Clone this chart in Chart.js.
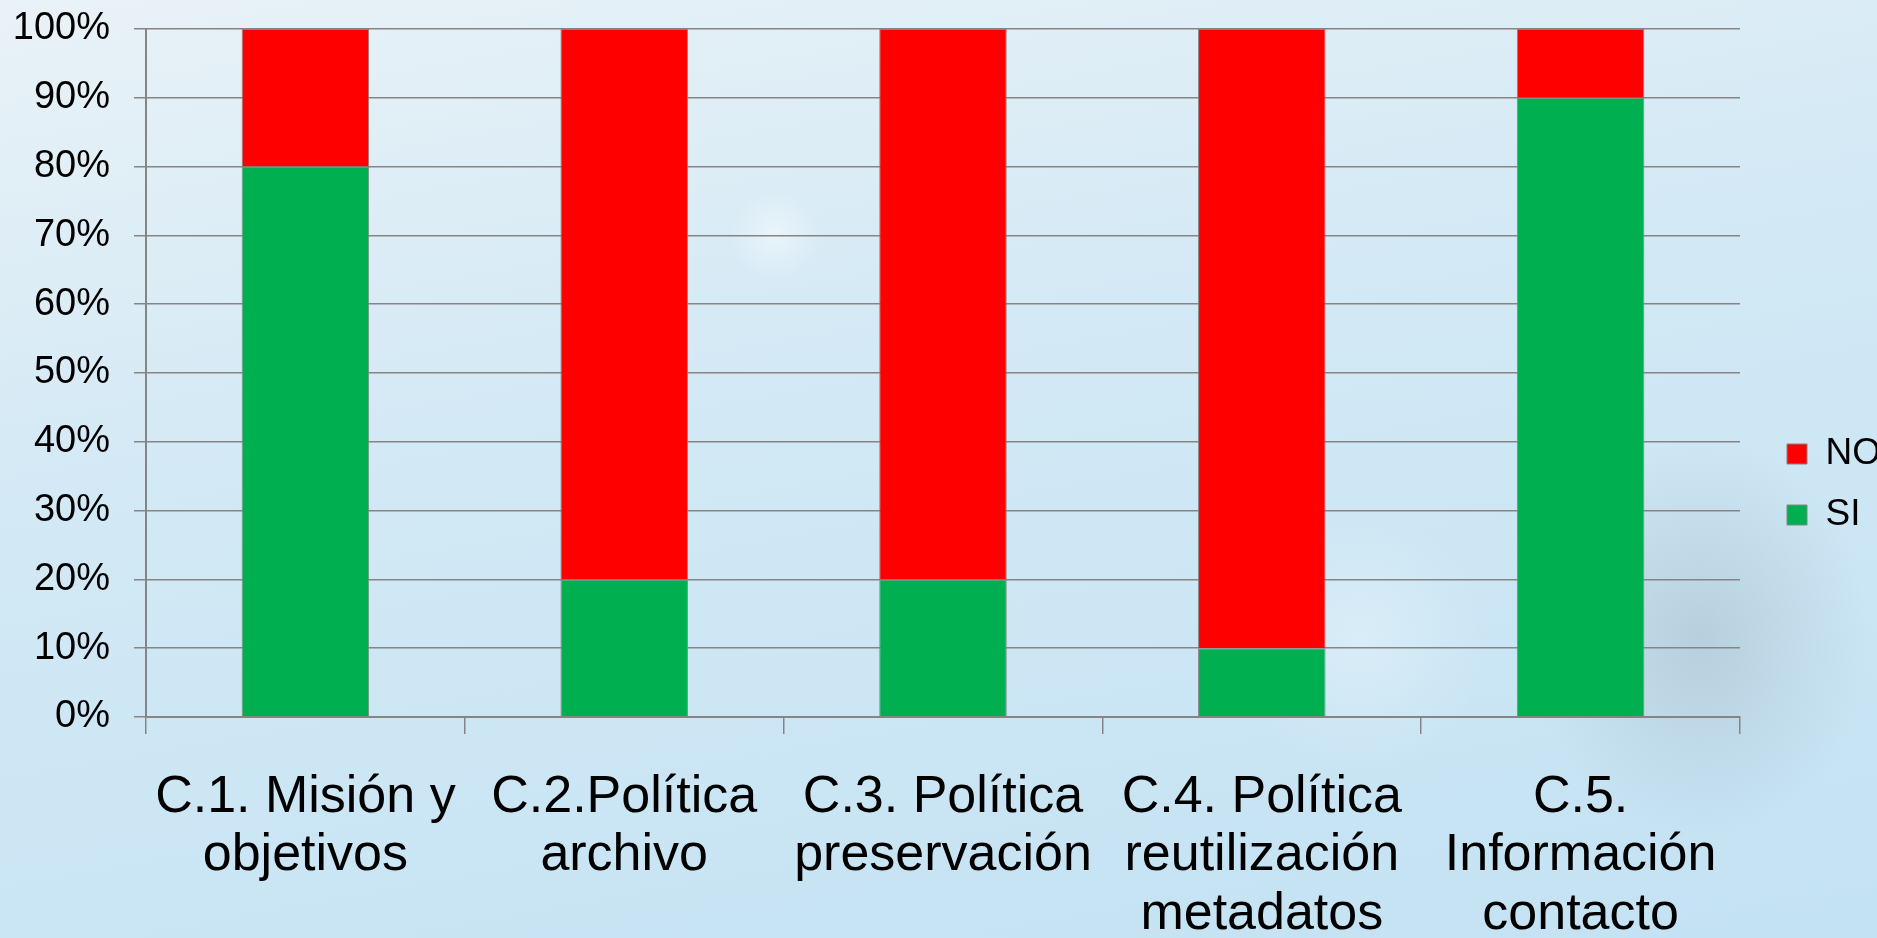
<!DOCTYPE html>
<html>
<head>
<meta charset="utf-8">
<script src="https://cdn.jsdelivr.net/npm/chart.js@4"></script>
<style>
  html, body { margin: 0; padding: 0; }
  body {
    width: 1877px;
    height: 938px;
    overflow: hidden;
    background:
      radial-gradient(ellipse 170px 200px at 1700px 640px, rgba(140, 158, 170, 0.30), rgba(140, 158, 170, 0) 100%),
      radial-gradient(circle 130px at 1360px 640px, rgba(235, 245, 252, 0.45), rgba(235, 245, 252, 0) 100%),
      radial-gradient(circle 45px at 775px 235px, rgba(245, 250, 253, 0.6), rgba(245, 250, 253, 0) 100%),
      linear-gradient(170deg, #e9f2f7 0%, #d3e9f5 40%, #c3e2f3 100%);
  }
  #wrap { position: relative; width: 1877px; height: 938px; }
</style>
</head>
<body>
<div id="wrap"><canvas id="chart"></canvas></div>
<script>
'use strict';

const categories = [
    ['C.1. Misión y', 'objetivos'],
    ['C.2.Política', 'archivo'],
    ['C.3. Política', 'preservación'],
    ['C.4. Política', 'reutilización', 'metadatos'],
    ['C.5.', 'Información', 'contacto'],
];
const siValues = [80, 20, 20, 10, 90];
const noValues = [20, 80, 80, 90, 10];
const yTicks = [0, 10, 20, 30, 40, 50, 60, 70, 80, 90, 100];

const gridColor = '#858585';
Chart.defaults.font.family = '"Liberation Sans", Arial, sans-serif';
Chart.defaults.color = '#000';

const chartElement = document.getElementById('chart');
const chart = new Chart(chartElement, {
    type: 'bar',
    data: {
        labels: categories,
        datasets: [
            {
                label: 'SI',
                data: siValues,
                backgroundColor: '#00B050',
                borderColor: '#7f8a86',
                borderWidth: 1,
                categoryPercentage: 0.8,
                barPercentage: 0.5,
            },
            {
                label: 'NO',
                data: noValues,
                backgroundColor: '#FF0000',
                borderColor: '#8a7f7f',
                borderWidth: 1,
                categoryPercentage: 0.8,
                barPercentage: 0.5,
            },
        ],
    },
    options: {
        responsive: true,
        maintainAspectRatio: false,
        animation: false,
        layout: {
            // negative right/bottom padding lets the legend sit against the edge like the original
            padding: { left: 0, right: -14, top: 29, bottom: -2 },
        },
        scales: {
            x: {
                stacked: true,
                grid: {
                    offset: true,
                    drawOnChartArea: false,
                    drawTicks: true,
                    tickLength: 17,
                    color: gridColor,
                    lineWidth: 1.5,
                },
                border: { display: true, color: gridColor, width: 2 },
                ticks: {
                    autoSkip: false,
                    maxRotation: 0,
                    minRotation: 0,
                    padding: 34,
                    font: { size: 52, lineHeight: 1.13 },
                },
                afterFit: function (scale) {
                    scale.height = 223;
                },
            },
            y: {
                stacked: true,
                min: 0,
                max: 100,
                afterBuildTicks: function (scale) {
                    scale.ticks = yTicks.map(v => ({ value: v }));
                },
                grid: {
                    drawTicks: true,
                    tickLength: 12,
                    color: gridColor,
                    lineWidth: 1.5,
                },
                border: { display: true, color: gridColor, width: 2 },
                ticks: {
                    padding: 24,
                    font: { size: 38 },
                    callback: function (value) {
                        return value + '%';
                    },
                },
                afterFit: function (scale) {
                    scale.width = 146;
                    scale.paddingTop = 0;
                    scale.paddingBottom = 0;
                },
            },
            gap: {
                type: 'linear',
                position: 'right',
                display: true,
                grid: { display: false },
                border: { display: false },
                ticks: { display: false },
                afterFit: function (scale) {
                    scale.width = 23;
                },
            },
        },
        plugins: {
            legend: {
                display: true,
                position: 'right',
                reverse: true,
                labels: {
                    boxWidth: 20,
                    boxHeight: 20,
                    padding: 24,
                    font: { size: 37 },
                    color: '#000',
                },
            },
            tooltip: { enabled: false },
        },
    },
});
</script>
</body>
</html>
